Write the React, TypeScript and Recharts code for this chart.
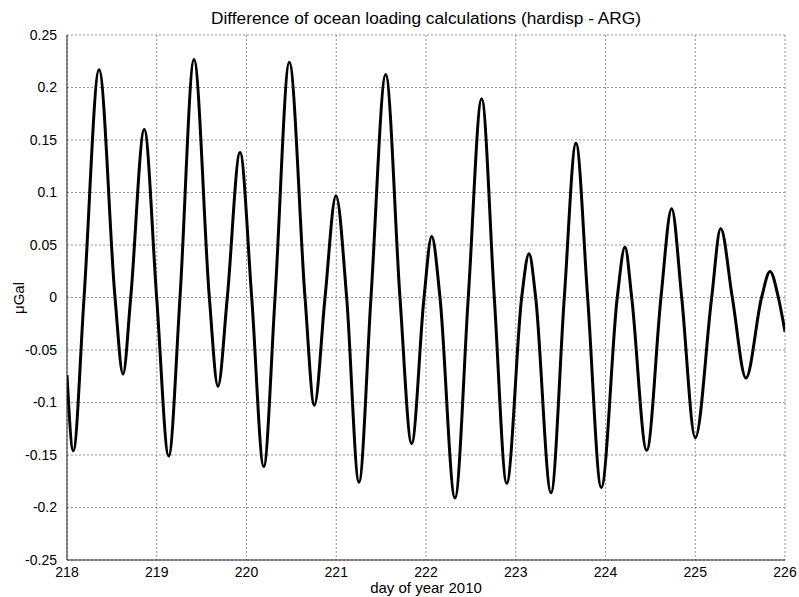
import React from 'react';
import { LineChart, Line, XAxis, YAxis, CartesianGrid } from 'recharts';

const days: number[] = [
  218.0, 218.07, 218.19, 218.357, 218.535, 218.624, 218.71, 218.861, 218.999, 219.133,
  219.259, 219.415, 219.586, 219.682, 219.786, 219.928, 220.058, 220.192, 220.318, 220.477,
  220.652, 220.756, 220.875, 220.997, 221.116, 221.253, 221.387, 221.551, 221.71, 221.84,
  221.978, 222.063, 222.156, 222.323, 222.471, 222.62, 222.761, 222.899, 223.066, 223.148,
  223.222, 223.393, 223.541, 223.671, 223.801, 223.953, 224.131, 224.217, 224.292, 224.459,
  224.618, 224.737, 224.849, 225.0, 225.183, 225.283, 225.413, 225.565, 225.739, 225.833,
  225.926, 226.0,
];

const values: number[] = [
  -0.074, -0.146, 0, 0.217, 0, -0.073, 0, 0.16, 0, -0.151,
  0, 0.2266, 0, -0.0845, 0, 0.138, 0, -0.161, 0, 0.224,
  0, -0.1026, 0, 0.097, 0, -0.176, 0, 0.2123, 0, -0.139,
  0, 0.058, 0, -0.191, 0, 0.1894, 0, -0.177, 0, 0.0417,
  0, -0.186, 0, 0.147, 0, -0.181, 0, 0.048, 0, -0.1455,
  0, 0.0846, 0, -0.1335, 0, 0.0658, 0, -0.0766, 0, 0.0248,
  0, -0.0327,
];

const xTicks: number[] = [218, 219, 220, 221, 222, 223, 224, 225, 226];
const yTicks: number[] = [-0.25, -0.2, -0.15, -0.1, -0.05, 0, 0.05, 0.1, 0.15, 0.2, 0.25];

const titleText = 'Difference of ocean loading calculations (hardisp - ARG)';
const xLabelText = 'day of year 2010';
const yLabelText = 'μGal';

const data = days.map((d, i) => ({ day: d, v: values[i] }));

const FONT = '"Liberation Sans", Arial, Helvetica, sans-serif';

const fmtY = (v: number) => {
  const r = Math.round(v * 1000) / 1000;
  return String(r);
};

export default function App() {
  return (
    <div style={{ position: 'absolute', left: 0, top: 0, width: 799, height: 597, background: '#fff', fontFamily: FONT }}>
      <LineChart
        width={799}
        height={597}
        data={data}
        margin={{ top: 35, right: 14, left: 0, bottom: 0 }}
      >
        <CartesianGrid stroke="#777" strokeDasharray="2 2" strokeWidth={0.8} />
        <XAxis
          dataKey="day"
          type="number"
          domain={[218, 226]}
          ticks={xTicks}
          allowDataOverflow
          height={37}
          tickLine={false}
          axisLine={{ stroke: '#222', strokeWidth: 1 }}
          tick={{ fill: '#000', fontSize: 14, fontFamily: FONT }}
          tickMargin={1}
          interval={0}
        />
        <XAxis
          xAxisId="top"
          orientation="top"
          dataKey="day"
          type="number"
          domain={[218, 226]}
          ticks={xTicks}
          height={0}
          tick={false}
          tickLine={false}
          axisLine={{ stroke: '#222', strokeWidth: 1 }}
        />
        <YAxis
          type="number"
          domain={[-0.25, 0.25]}
          ticks={yTicks}
          allowDataOverflow
          width={67}
          tickLine={false}
          axisLine={{ stroke: '#222', strokeWidth: 1 }}
          tick={{ fill: '#000', fontSize: 14, fontFamily: FONT }}
          tickFormatter={fmtY}
          tickMargin={4}
          interval={0}
        />
        <YAxis
          yAxisId="right"
          orientation="right"
          type="number"
          domain={[-0.25, 0.25]}
          width={0}
          tick={false}
          tickLine={false}
          axisLine={{ stroke: '#222', strokeWidth: 1 }}
        />
        <Line
          dataKey="v"
          type="monotone"
          stroke="#000"
          strokeWidth={3}
          dot={false}
          isAnimationActive={false}
        />
      </LineChart>
      <div style={{ position: 'absolute', left: 67, width: 718, top: 8, textAlign: 'center', fontSize: 17.3, color: '#000', whiteSpace: 'nowrap' }}>
        {titleText}
      </div>
      <div style={{ position: 'absolute', left: 67, width: 718, top: 579, textAlign: 'center', fontSize: 15, color: '#000', whiteSpace: 'nowrap' }}>
        {xLabelText}
      </div>
      <div style={{ position: 'absolute', left: 18, top: 298, width: 0, height: 0 }}>
        <div style={{ position: 'absolute', transform: 'translate(-50%, -50%) rotate(-90deg)', fontSize: 15, color: '#000', whiteSpace: 'nowrap' }}>
          {yLabelText}
        </div>
      </div>
    </div>
  );
}
